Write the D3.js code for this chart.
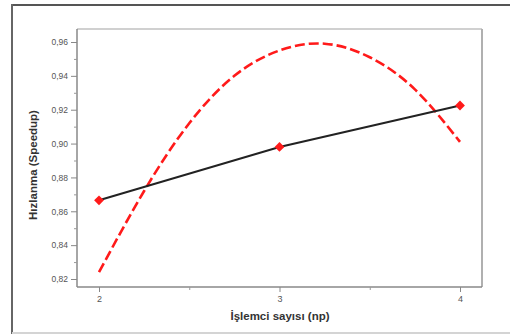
<!DOCTYPE html>
<html><head><meta charset="utf-8">
<script src="https://cdn.jsdelivr.net/npm/d3@7"></script>
<style>html,body{margin:0;padding:0;background:#fff;}svg{display:block;}</style>
</head><body>
<script>
const npValues = [2, 3, 4];
const speedupMeasured = [0.8665, 0.898, 0.9225];
const fitX = [2, 2.25, 2.5, 2.75, 3, 3.25, 3.5, 3.75, 4];
const fitY = [0.824, 0.872, 0.912, 0.940, 0.955, 0.959, 0.951, 0.932, 0.901];
const yTicks = [0.82, 0.84, 0.86, 0.88, 0.90, 0.92, 0.94, 0.96];
const xTicks = [2, 3, 4];
const xLabel = "İşlemci sayısı (np)";
const yLabel = "Hızlanma (Speedup)";

const W = 510, H = 336;
const svg = d3.select("body").append("svg").attr("width", W).attr("height", H);
const font = "Liberation Sans, Arial, sans-serif";

// outer frame
svg.append("line").attr("x1",12).attr("x2",510).attr("y1",5).attr("y2",5).attr("stroke","#555").attr("stroke-width",2);
svg.append("line").attr("x1",12).attr("x2",12).attr("y1",4).attr("y2",334).attr("stroke","#666").attr("stroke-width",2);
svg.append("line").attr("x1",12).attr("x2",510).attr("y1",333).attr("y2",333).attr("stroke","#d4d4d4").attr("stroke-width",2);

const L = 77, R = 482, T = 29, B = 287;
const x = d3.scaleLinear().domain([2, 4]).range([99, 460]);
const y = d3.scaleLinear().domain([0.82, 0.96]).range([279, 42]);

// plot frame
svg.append("line").attr("x1",L).attr("x2",R).attr("y1",T).attr("y2",T).attr("stroke","#d0d0d0").attr("stroke-width",2);
svg.append("line").attr("x1",R).attr("x2",R).attr("y1",T).attr("y2",B).attr("stroke","#b0b0b0").attr("stroke-width",2);

// y axis
const yAxis = d3.axisLeft(y).tickValues(yTicks).tickSize(6).tickPadding(3)
  .tickFormat(d => d3.format(".2f")(d).replace(".", ","));
const gy = svg.append("g").attr("transform", `translate(${L},0)`).call(yAxis);
gy.select(".domain").attr("d", `M0,${T}V${B}`).attr("stroke","#888").attr("stroke-width",1.5);
gy.selectAll(".tick line").attr("stroke","#888");
gy.selectAll(".tick text").attr("font-family", font).attr("font-size", 8.5).attr("fill","#555");
const yMinor = d3.axisLeft(y).tickValues(d3.range(0.83, 0.96, 0.02)).tickSize(3).tickFormat("");
const gym = svg.append("g").attr("transform", `translate(${L},0)`).call(yMinor);
gym.select(".domain").remove();
gym.selectAll(".tick line").attr("stroke","#999");

// x axis
const xAxis = d3.axisBottom(x).tickValues(xTicks).tickSize(5).tickPadding(4).tickFormat(d3.format("d"));
const gx = svg.append("g").attr("transform", `translate(0,${B})`).call(xAxis);
gx.select(".domain").attr("d", `M${L},0H${R}`).attr("stroke","#888").attr("stroke-width",1.5);
gx.selectAll(".tick line").attr("stroke","#888");
gx.selectAll(".tick text").attr("font-family", font).attr("font-size", 9).attr("fill","#555");
const xMinor = d3.axisBottom(x).tickValues([2.5, 3.5]).tickSize(3).tickFormat("");
const gxm = svg.append("g").attr("transform", `translate(0,${B})`).call(xMinor);
gxm.select(".domain").remove();
gxm.selectAll(".tick line").attr("stroke","#999");

// titles
svg.append("text").attr("x", 280).attr("y", 320).attr("text-anchor","middle")
  .attr("font-family", font).attr("font-size", 11.5).attr("font-weight","bold").attr("fill","#333").text(xLabel);
svg.append("text").attr("transform","translate(37,165) rotate(-90)").attr("text-anchor","middle")
  .attr("font-family", font).attr("font-size", 11.5).attr("font-weight","bold").attr("fill","#333").text(yLabel);

// red dashed fit curve
const fitData = fitX.map((v,i)=>[v, fitY[i]]);
svg.append("path").datum(fitData)
  .attr("d", d3.line().x(d=>x(d[0])).y(d=>y(d[1])).curve(d3.curveNatural))
  .attr("fill","none").attr("stroke","#ff1a1a").attr("stroke-width",2.6)
  .attr("stroke-dasharray","10,4");

// black measured line
const measData = npValues.map((v,i)=>[v, speedupMeasured[i]]);
svg.append("path").datum(measData)
  .attr("d", d3.line().x(d=>x(d[0])).y(d=>y(d[1])))
  .attr("fill","none").attr("stroke","#222").attr("stroke-width",2);

// markers (square rotated 45° = regular diamond)
svg.selectAll("path.mk").data(measData).enter().append("path").attr("class","mk")
  .attr("d", d3.symbol().type(d3.symbolSquare).size(48))
  .attr("transform", d=>`translate(${x(d[0])},${y(d[1])}) rotate(45)`)
  .attr("fill","#ff1a1a");
</script>
</body></html>
